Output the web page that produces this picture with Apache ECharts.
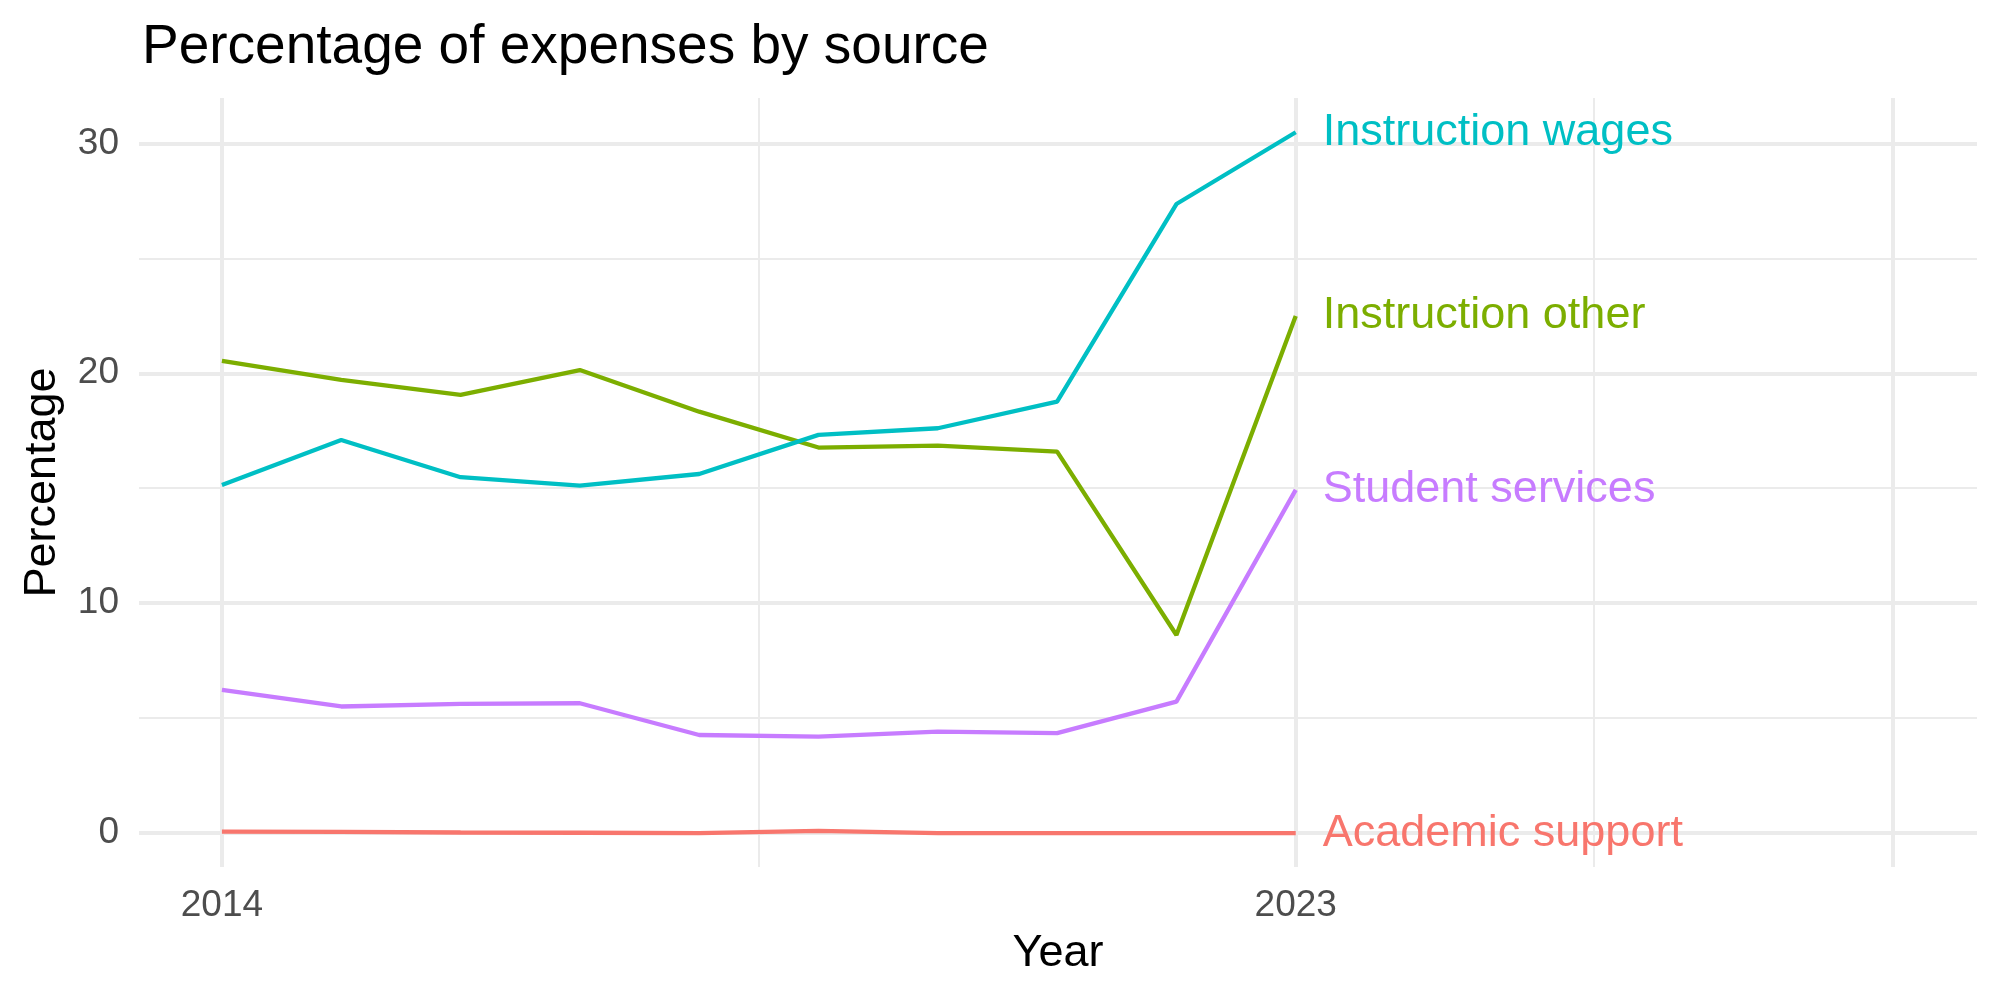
<!DOCTYPE html>
<html>
<head>
<meta charset="utf-8">
<script src="https://cdn.jsdelivr.net/npm/echarts@6/dist/echarts.min.js"></script>
<style>
  html, body { margin: 0; padding: 0; background: #fff; }
  #chart { width: 2000px; height: 1000px; }
</style>
</head>
<body>
<div id="chart"></div>
<script>
    // years on the x axis
    const years = [2014, 2015, 2016, 2017, 2018, 2019, 2020, 2021, 2022, 2023];
    // percentage of expenses, one array per source
    const academicSupport = [0.07, 0.06, 0.03, 0.02, 0.0, 0.1, 0.0, 0.0, 0.0, 0.0];
    const instructionOther = [20.54, 19.71, 19.06, 20.14, 18.33, 16.77, 16.85, 16.59, 8.62, 22.49];
    const instructionWages = [15.14, 17.1, 15.48, 15.11, 15.62, 17.32, 17.61, 18.77, 27.36, 30.48];
    const studentServices = [6.23, 5.51, 5.62, 5.65, 4.27, 4.2, 4.42, 4.35, 5.72, 14.93];
    // tick labels
    const xTicks = [2014, 2023];
    const yTicks = [0, 10, 20, 30];
    // grid lines (major / minor)
    const xMajor = [2014, 2023, 2028];
    const xMinor = [2018.5, 2025.5];
    const yMajor = [0, 10, 20, 30];
    const yMinor = [5, 15, 25];

    const font = 'Liberation Sans';
    const gridColor = '#EBEBEB';

    function pairs(vals) {
        return years.map((y, i) => [y, vals[i]]);
    }

    function makeLine(name, vals, color) {
        return {
            name: name,
            type: 'line',
            data: pairs(vals),
            showSymbol: false,
            symbol: 'none',
            z: 3,
            lineStyle: { color: color, width: 4.3 },
            itemStyle: { color: color },
            endLabel: {
                show: true,
                formatter: '{a}',
                color: color,
                fontSize: 45,
                fontFamily: font,
                distance: 27,
                verticalAlign: 'middle'
            },
            emphasis: { disabled: true }
        };
    }

    let gridLines = [];
    xMajor.forEach(v => gridLines.push({ xAxis: v, lineStyle: { width: 4 } }));
    xMinor.forEach(v => gridLines.push({ xAxis: v, lineStyle: { width: 2 } }));
    yMajor.forEach(v => gridLines.push({ yAxis: v, lineStyle: { width: 4 } }));
    yMinor.forEach(v => gridLines.push({ yAxis: v, lineStyle: { width: 2 } }));

    let myChart = echarts.init(document.getElementById('chart'));
    let option = {
        animation: false,
        backgroundColor: '#fff',
        title: {
            text: 'Percentage of expenses by source',
            left: 137,
            top: 15,
            textStyle: { fontFamily: font, fontSize: 55, fontWeight: 'normal', color: '#000' }
        },
        grid: { left: 139, right: 23, top: 98, bottom: 133 },
        xAxis: {
            type: 'value',
            min: 2013.305,
            max: 2028.71,
            name: 'Year',
            nameLocation: 'middle',
            nameGap: 64,
            nameTextStyle: { fontFamily: font, fontSize: 45, color: '#000' },
            axisLine: { show: false },
            axisTick: { show: false },
            splitLine: { show: false },
            axisLabel: {
                customValues: xTicks,
                formatter: v => String(v),
                color: '#4D4D4D',
                fontSize: 37,
                fontFamily: font,
                margin: 20
            }
        },
        yAxis: {
            type: 'value',
            min: -1.47,
            max: 31.97,
            name: 'Percentage',
            nameLocation: 'middle',
            nameRotate: 90,
            nameGap: 74,
            nameTextStyle: { fontFamily: font, fontSize: 45, color: '#000' },
            axisLine: { show: false },
            axisTick: { show: false },
            splitLine: { show: false },
            axisLabel: {
                customValues: yTicks,
                color: '#4D4D4D',
                fontSize: 37,
                fontFamily: font,
                margin: 20
            }
        },
        series: [
            {
                name: 'grid',
                type: 'line',
                data: [],
                z: 0,
                silent: true,
                markLine: {
                    z: 0,
                    silent: true,
                    symbol: 'none',
                    animation: false,
                    label: { show: false },
                    lineStyle: { color: gridColor, type: 'solid' },
                    emphasis: { disabled: true },
                    data: gridLines
                }
            },
            makeLine('Academic support', academicSupport, '#F8766D'),
            makeLine('Instruction other', instructionOther, '#7CAE00'),
            makeLine('Instruction wages', instructionWages, '#00BFC4'),
            makeLine('Student services', studentServices, '#C77CFF')
        ]
    };
    myChart.setOption(option, true);
</script>
</body>
</html>
